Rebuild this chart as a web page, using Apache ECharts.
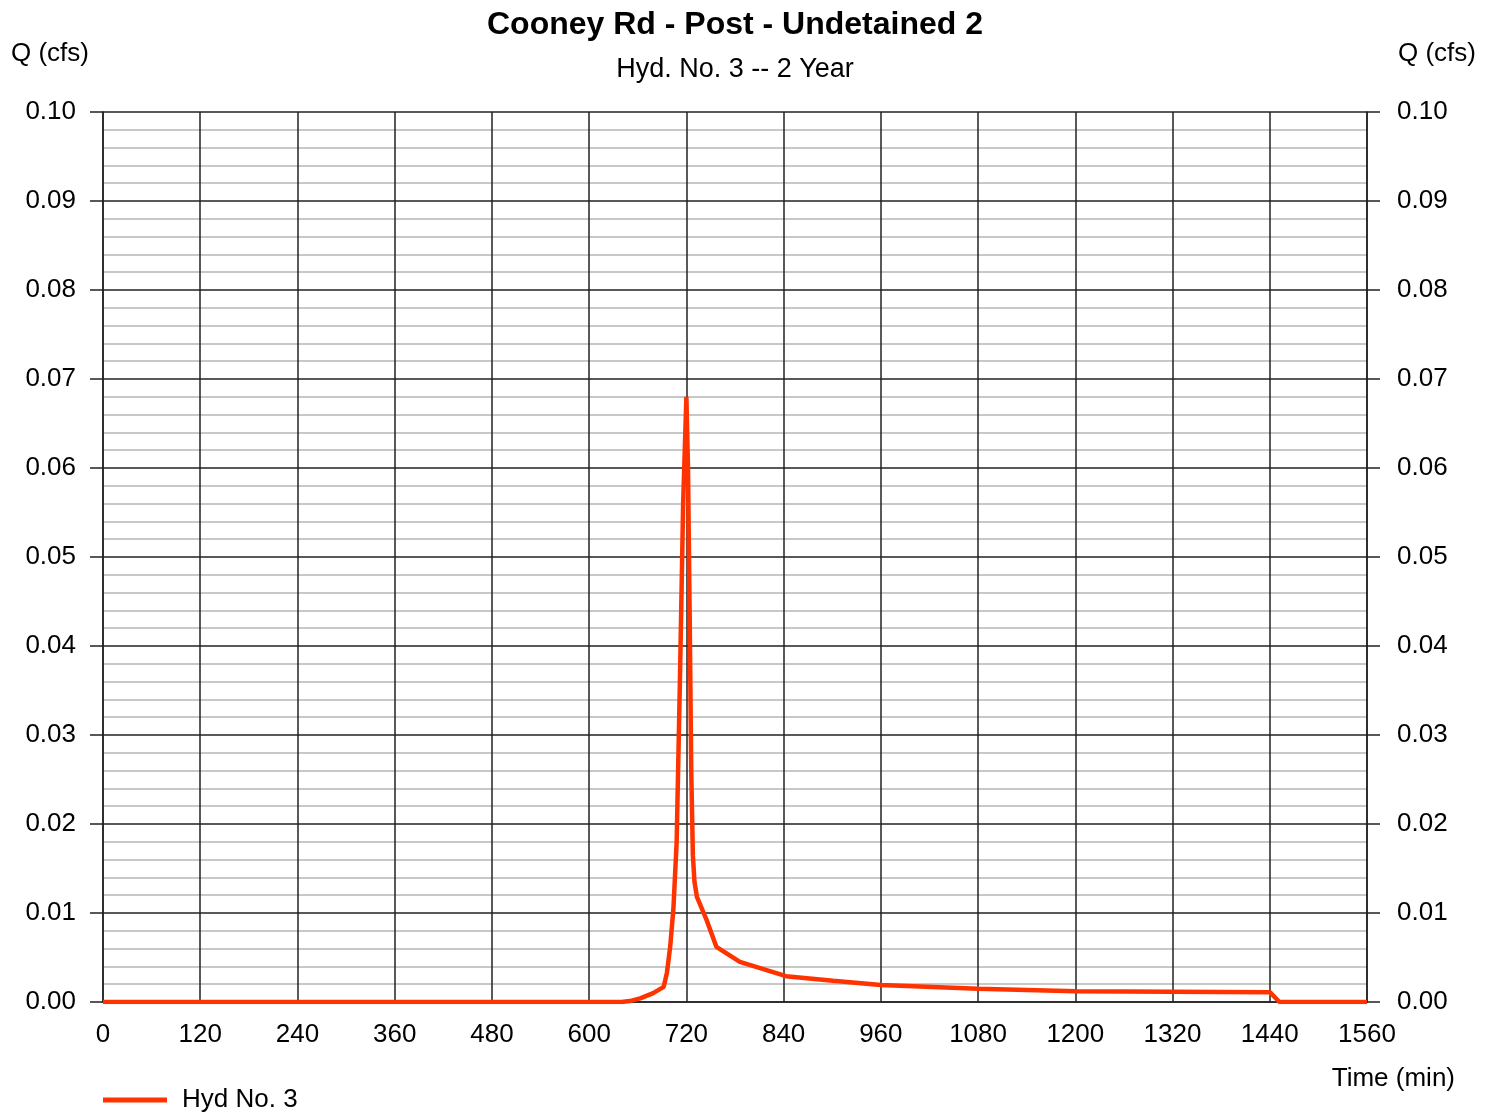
<!DOCTYPE html>
<html>
<head>
<meta charset="utf-8">
<title>Cooney Rd - Post - Undetained 2</title>
<script src="https://cdn.jsdelivr.net/npm/echarts@6/dist/echarts.min.js"></script>
<style>
  html, body { margin: 0; padding: 0; background: #fff; }
  #chart { width: 1491px; height: 1112px; }
</style>
</head>
<body>
<div id="chart"></div>
<script>
// hydrograph (time in min, Q in cfs)
const times = [0, 600, 640, 650, 663, 679, 692, 696, 700, 704, 708, 712, 716, 720,
  722, 724, 726, 728, 730, 733, 745, 757, 786, 811, 843, 901, 960, 1080, 1200,
  1320, 1440, 1452, 1560]
const flows = [0, 0, 0, 0.0001, 0.0004, 0.001, 0.0017, 0.0033, 0.0062, 0.0105,
  0.018, 0.036, 0.056, 0.068, 0.060, 0.044, 0.026, 0.0165, 0.0135, 0.0118,
  0.0092, 0.0062, 0.0045, 0.0038, 0.0029, 0.0024, 0.0019, 0.0015, 0.0012,
  0.00115, 0.0011, 0, 0]
const xTicks = { min: 0, max: 1560, step: 120 }
const yTicks = { min: 0, max: 0.1, step: 0.01 }

const font = 'Liberation Sans, Arial, sans-serif'
const chart = echarts.init(document.getElementById('chart'))

const yAxisBase = (pos, margin) => ({
  type: 'value',
  position: pos,
  min: yTicks.min,
  max: yTicks.max,
  interval: yTicks.step,
  axisLine: { show: true, lineStyle: { color: '#222', width: 1.5 } },
  axisTick: { show: true, inside: false, length: 13, lineStyle: { color: '#222', width: 1.5 } },
  axisLabel: {
    margin: margin,
    color: '#000',
    fontSize: 26,
    fontFamily: font,
    formatter: v => v.toFixed(2)
  },
  splitLine: { show: pos === 'left', lineStyle: { color: '#222', width: 1.5 } },
  minorTick: { show: false, splitNumber: 5 },
  minorSplitLine: { show: pos === 'left', lineStyle: { color: '#c8c8c8', width: 2 } }
})

const option = {
  backgroundColor: '#fff',
  animation: false,
  grid: { left: 103, right: 124, top: 112, bottom: 110 },
  legend: {
    left: 98,
    top: 1082,
    icon: 'rect',
    itemWidth: 64,
    itemHeight: 5,
    textStyle: { fontSize: 26, color: '#000', fontFamily: font, padding: [0, 0, 0, 10] },
    data: ['Hyd No. 3']
  },
  graphic: [
    { type: 'text', x: 735, y: 25, style: { text: 'Cooney Rd - Post - Undetained 2', fontSize: 32, fontWeight: 'bold', fontFamily: font, fill: '#000', align: 'center', verticalAlign: 'middle' } },
    { type: 'text', x: 735, y: 70, style: { text: 'Hyd. No. 3 -- 2 Year', fontSize: 27, fontFamily: font, fill: '#000', align: 'center', verticalAlign: 'middle' } },
    { type: 'text', left: 11, top: 41, style: { text: 'Q (cfs)', fontSize: 26, fontFamily: font, fill: '#000' } },
    { type: 'text', right: 15, top: 41, style: { text: 'Q (cfs)', fontSize: 26, fontFamily: font, fill: '#000' } },
    { type: 'text', right: 36, top: 1066, style: { text: 'Time (min)', fontSize: 26, fontFamily: font, fill: '#000' } }
  ],
  xAxis: {
    type: 'value',
    min: xTicks.min,
    max: xTicks.max,
    interval: xTicks.step,
    axisLine: { show: true, lineStyle: { color: '#222', width: 1.5 } },
    axisTick: { show: false },
    axisLabel: { margin: 20, color: '#000', fontSize: 26, fontFamily: font, formatter: v => String(v) },
    splitLine: { show: true, lineStyle: { color: '#222', width: 1.5 } }
  },
  yAxis: [yAxisBase('left', 27), yAxisBase('right', 30)],
  series: [{
    name: 'Hyd No. 3',
    type: 'line',
    showSymbol: false,
    smooth: false,
    lineStyle: { color: '#ff3300', width: 4.5 },
    itemStyle: { color: '#ff3300' },
    data: times.map((t, i) => [t, flows[i]])
  }]
}

chart.setOption(option)
</script>
</body>
</html>
